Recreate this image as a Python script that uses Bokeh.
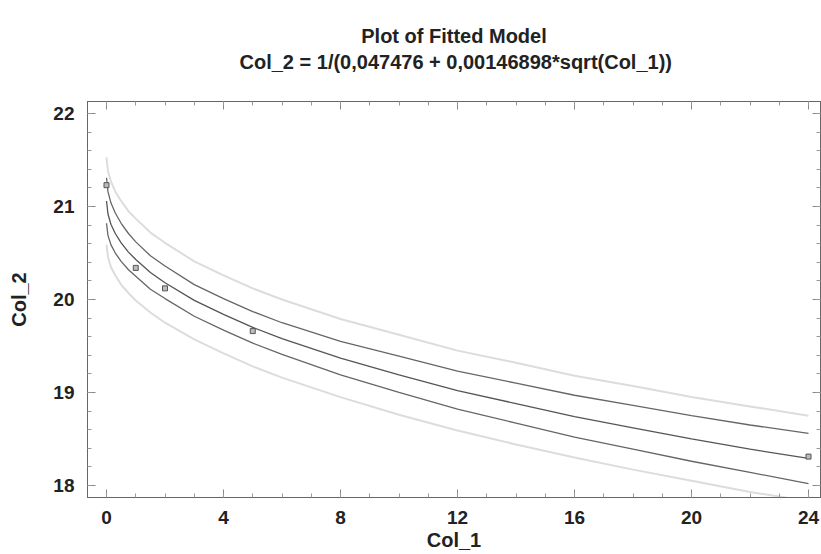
from bokeh.plotting import figure
from bokeh.models import Range1d, SingleIntervalTicker, LinearAxis, Title
from bokeh.embed import file_html
from bokeh.resources import INLINE

# Curve sample positions (Col_1) and values
curve_x = [0, 0.05, 0.15, 0.3, 0.5, 0.75, 1, 1.5, 2, 3, 4, 5, 6, 8, 10, 12, 14, 16, 18, 20, 22, 24]
fitted = [21.06, 20.92, 20.81, 20.71, 20.61, 20.51, 20.43, 20.29, 20.18, 19.99, 19.84, 19.70,
          19.58, 19.37, 19.19, 19.02, 18.88, 18.74, 18.62, 18.50, 18.39, 18.29]
conf_upper = [21.31, 21.16, 21.04, 20.93, 20.82, 20.71, 20.62, 20.47, 20.36, 20.16, 20.01, 19.87,
              19.75, 19.55, 19.39, 19.23, 19.10, 18.97, 18.86, 18.75, 18.65, 18.56]
conf_lower = [20.82, 20.69, 20.59, 20.50, 20.41, 20.32, 20.25, 20.11, 20.01, 19.82, 19.67, 19.53,
              19.41, 19.19, 19.00, 18.82, 18.67, 18.52, 18.39, 18.26, 18.14, 18.02]
pred_upper = [21.53, 21.38, 21.27, 21.16, 21.06, 20.95, 20.87, 20.72, 20.61, 20.41, 20.26, 20.12,
              20.00, 19.79, 19.62, 19.45, 19.32, 19.18, 19.07, 18.95, 18.85, 18.75]
pred_lower = [20.59, 20.46, 20.35, 20.26, 20.16, 20.07, 19.99, 19.86, 19.75, 19.57, 19.42, 19.28,
              19.16, 18.95, 18.76, 18.59, 18.44, 18.30, 18.17, 18.05, 17.93, 17.83]

# Observed points
obs_x = [0, 1, 2, 5, 24]
obs_y = [21.23, 20.34, 20.12, 19.66, 18.31]

title_text = "Plot of Fitted Model"
subtitle_text = "Col_2 = 1/(0,047476 + 0,00146898*sqrt(Col_1))"
x_label = "Col_1"
y_label = "Col_2"

FONT = "Liberation Sans"
TXT = "#222222"

p = figure(width=821, height=554, output_backend="svg", toolbar_location=None,
           x_range=Range1d(-0.65, 24.41), y_range=Range1d(17.87, 22.13),
           title=None, min_border_left=87, min_border_right=1,
           min_border_bottom=57, min_border_top=101,
           x_axis_type=None, y_axis_type=None)

p.background_fill_color = "white"
p.border_fill_color = "white"
p.outline_line_color = "#555555"
p.outline_line_width = 1
p.grid.visible = False

def style_axis(ax, labels=True):
    ax.major_tick_in = 8
    ax.major_tick_out = 0
    ax.minor_tick_in = 4
    ax.minor_tick_out = 0
    ax.major_tick_line_color = "#888888"
    ax.minor_tick_line_color = "#999999"
    ax.axis_line_color = "#666666"
    ax.major_label_text_font = FONT
    ax.major_label_text_font_style = "bold"
    ax.major_label_text_font_size = "19px"
    ax.major_label_text_color = TXT
    ax.axis_label_text_font = FONT
    ax.axis_label_text_font_style = "bold"
    ax.axis_label_text_font_size = "20px"
    ax.axis_label_text_color = TXT
    if not labels:
        ax.major_label_text_font_size = "0px"

xb = LinearAxis(ticker=SingleIntervalTicker(interval=4, num_minor_ticks=4), axis_label=x_label)
style_axis(xb)
xb.major_label_standoff = 13
xb.axis_label_standoff = 2
p.add_layout(xb, "below")

yl = LinearAxis(ticker=SingleIntervalTicker(interval=1, num_minor_ticks=5), axis_label=y_label)
style_axis(yl)
yl.major_label_standoff = 13
yl.axis_label_standoff = 20
p.add_layout(yl, "left")

xt = LinearAxis(ticker=SingleIntervalTicker(interval=4, num_minor_ticks=4))
style_axis(xt, labels=False)
xt.major_label_standoff = 0
p.add_layout(xt, "above")

yr = LinearAxis(ticker=SingleIntervalTicker(interval=1, num_minor_ticks=5))
style_axis(yr, labels=False)
yr.major_label_standoff = 0
p.add_layout(yr, "right")

# spacer between frame and the subtitle
p.add_layout(Title(text=" ", text_font_size="10px", standoff=16), "above")
p.add_layout(Title(text=subtitle_text, align="left", offset=152, text_font=FONT,
                   text_font_style="bold", text_font_size="20px", text_color=TXT,
                   standoff=0), "above")
p.add_layout(Title(text=title_text, align="center", text_font=FONT,
                   text_font_style="bold", text_font_size="20px", text_color=TXT,
                   standoff=4), "above")

# Prediction limits (light)
p.line(curve_x, pred_upper, line_color="#dcdcdc", line_width=2)
p.line(curve_x, pred_lower, line_color="#dcdcdc", line_width=2)
# Confidence limits
p.line(curve_x, conf_upper, line_color="#666666", line_width=1.3)
p.line(curve_x, conf_lower, line_color="#666666", line_width=1.3)
# Fitted curve
p.line(curve_x, fitted, line_color="#555555", line_width=1.3)
# Observations
p.scatter(obs_x, obs_y, marker="square", size=5, line_color="#555555", fill_color="#bbbbbb",
          line_width=1)

open("out.html", "w").write(file_html(p, INLINE))
